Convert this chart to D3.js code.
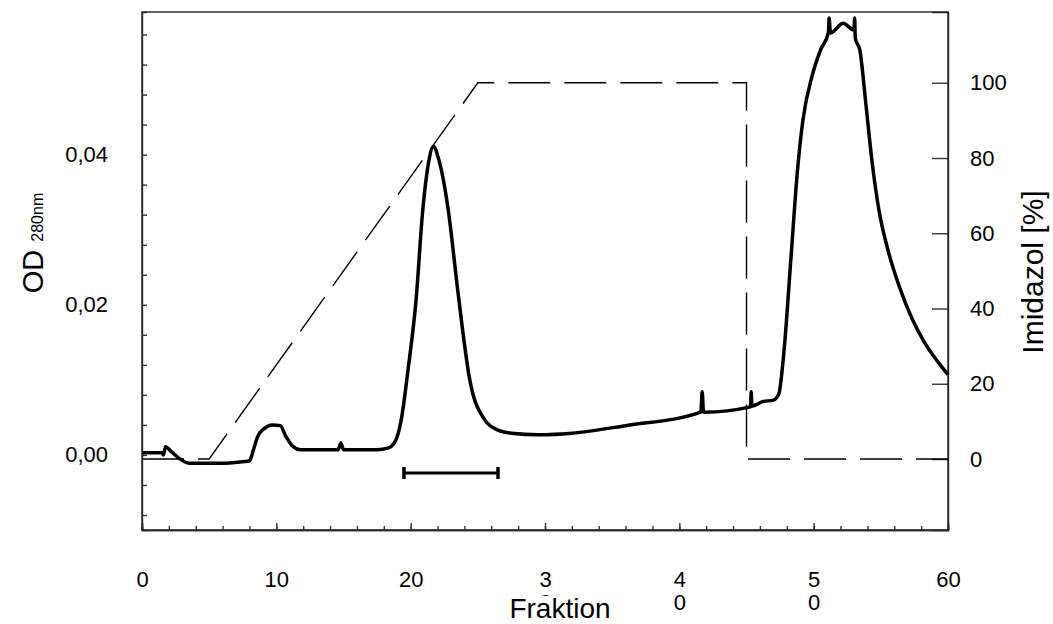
<!DOCTYPE html>
<html>
<head>
<meta charset="utf-8">
<script src="https://cdn.jsdelivr.net/npm/d3@7"></script>
<style>
  body { margin: 0; background: #fff; }
  svg { font-family: "Liberation Sans", Arial, sans-serif; }
  .axis path, .axis line { stroke: #333; stroke-width: 1.4; }
  .axis text { fill: #000; }
</style>
</head>
<body>
<div id="chart"></div>
<script>

// OD 280nm trace
var fraction = [0, 1.5, 1.6, 1.75, 2.2, 2.8, 3.5, 4.5, 6, 7.5, 8.0, 8.3, 8.6, 9.1, 9.7, 10.3, 10.7, 11.2, 11.8,
  14.6, 14.8, 15.0, 17.5, 18.3, 18.9, 19.3, 19.8, 20.4, 20.9, 21.3, 21.7, 22.1, 22.8, 23.5, 24.4, 25.5, 26.5,
  27.5, 29.5, 32, 36, 41.6, 41.7, 41.8, 45.3, 45.35, 45.4, 46.2, 47.0, 47.4, 47.8, 48.3, 48.8, 49.2, 49.9,
  50.5, 51.1, 51.15, 51.25, 52.2, 53.0, 53.05, 53.1, 53.44, 53.89, 54.33, 54.86, 55.53, 56.42, 57.31, 58.28, 59.25, 60];
var od = [0.0003, 0.0003, 0.0000, 0.0011, 0.0004, -0.0005, -0.0011, -0.0011, -0.0011, -0.0009, -0.0008, 0.0007, 0.0024, 0.0035, 0.0040, 0.0039, 0.0025, 0.0012, 0.0007,
  0.0007, 0.0016, 0.0007, 0.0007, 0.0009, 0.0020, 0.0047, 0.0113, 0.0206, 0.0326, 0.0386, 0.0411, 0.0393, 0.0326, 0.0220, 0.0100, 0.0047, 0.0033,
  0.0029, 0.0027, 0.0029, 0.0039, 0.0057, 0.0084, 0.0057, 0.0064, 0.0084, 0.0065, 0.0071, 0.0073, 0.0081, 0.0140, 0.0260, 0.0380, 0.0446, 0.0506,
  0.0539, 0.0563, 0.0582, 0.0562, 0.0575, 0.0566, 0.0582, 0.0555, 0.0539, 0.0467, 0.0393, 0.0326, 0.0273, 0.0222, 0.0182, 0.0149, 0.0124, 0.0107];

// imidazole gradient
var gradFraction = [0, 5, 25, 45, 45, 60];
var gradImidazol = [0, 0, 100, 100, 0, 0];

// pooled fractions bar
var poolRange = [19.5, 26.5];
var poolLevel = -0.0024;

var xTicks = [0, 10, 20, 30, 40, 50, 60];
var xTickLabels = ["0", "10", "20", "3\n0", "4\n0", "5\n0", "60"];
var odTicks = [0, 0.02, 0.04];
var odTickLabels = ["0,00", "0,02", "0,04"];
var imTicks = [0, 20, 40, 60, 80, 100];

var margin = { left: 142, right: 105, top: 12, bottom: 94 };
var width = 1053 - margin.left - margin.right;
var height = 624 - margin.top - margin.bottom;

var svg = d3.select("#chart").append("svg")
  .attr("width", 1053)
  .attr("height", 624);

var g = svg.append("g")
  .attr("transform", "translate(" + margin.left + "," + margin.top + ")");

var xScale = d3.scaleLinear().domain([0, 60]).range([0, width]);
var yScale = d3.scaleLinear().domain([-0.01, 0.059]).range([height, 0]);
var imScale = d3.scaleLinear().domain([-18.87, 118.8]).range([height, 0]);

// left axis, minor ticks every 0.004
var odMinor = d3.range(-2, 15).map(function (i) { return i * 0.004; });
g.append("g")
  .attr("class", "axis")
  .style("font-size", "22px")
  .call(d3.axisLeft(yScale).tickValues(odMinor).tickSize(-5).tickPadding(34)
    .tickFormat(function (d) {
      var i = odTicks.findIndex(function (t) { return Math.abs(t - d) < 1e-9; });
      return i >= 0 ? odTickLabels[i] : "";
    }));

// bottom ticks
g.append("g")
  .attr("class", "axis")
  .attr("transform", "translate(0," + height + ")")
  .call(d3.axisBottom(xScale).tickValues(d3.range(0, 61, 2)).tickSize(-4).tickFormat(""));

var xAxisG = g.append("g")
  .attr("class", "axis x-major")
  .attr("transform", "translate(0," + height + ")")
  .style("font-family", "'Liberation Sans Narrow', 'Arial Narrow', sans-serif")
  .style("font-size", "22px")
  .call(d3.axisBottom(xScale).tickValues(xTicks).tickSize(-7).tickPadding(41)
    .tickFormat(function (d, i) { return xTickLabels[i]; }));

xAxisG.selectAll(".tick text").each(function () {
  var t = d3.select(this);
  var parts = t.text().split("\n");
  if (parts.length > 1) {
    t.text(null);
    parts.forEach(function (p, k) {
      t.append("tspan").attr("x", 0).attr("dy", k === 0 ? "0.71em" : "1.05em").text(p);
    });
    t.attr("dy", null);
  }
});

// right axis
g.append("g")
  .attr("class", "axis")
  .attr("transform", "translate(" + width + ",0)")
  .style("font-size", "22px")
  .call(d3.axisRight(imScale).tickValues(imTicks).tickSize(-16).tickPadding(22));

// frame
g.append("rect")
  .attr("width", width)
  .attr("height", height)
  .attr("fill", "none")
  .attr("stroke", "#222")
  .attr("stroke-width", 1.4);

// gradient (dashed)
var gradLine = d3.line()
  .x(function (d) { return xScale(d[0]); })
  .y(function (d) { return imScale(d[1]); });

g.append("path")
  .datum(gradFraction.map(function (f, i) { return [f, gradImidazol[i]]; }))
  .attr("d", gradLine)
  .attr("fill", "none")
  .attr("stroke", "#000")
  .attr("stroke-width", 1.4)
  .attr("stroke-dasharray", "42,14");

// OD trace
var odLine = d3.line()
  .x(function (d) { return xScale(d[0]); })
  .y(function (d) { return yScale(d[1]); })
  .curve(d3.curveMonotoneX);

g.append("path")
  .datum(fraction.map(function (f, i) { return [f, od[i]]; }))
  .attr("d", odLine)
  .attr("fill", "none")
  .attr("stroke", "#000")
  .attr("stroke-width", 3.5)
  .attr("stroke-linejoin", "round");

// pool bar
var pool = g.append("g").attr("stroke", "#000");
pool.append("line")
  .attr("x1", xScale(poolRange[0])).attr("x2", xScale(poolRange[1]))
  .attr("y1", yScale(poolLevel)).attr("y2", yScale(poolLevel))
  .attr("stroke-width", 3);
poolRange.forEach(function (p) {
  pool.append("line")
    .attr("x1", xScale(p)).attr("x2", xScale(p))
    .attr("y1", yScale(poolLevel) - 6).attr("y2", yScale(poolLevel) + 6)
    .attr("stroke-width", 3.5);
});

// axis titles
var odTitle = svg.append("text")
  .attr("transform", "translate(43,243) rotate(-90)")
  .attr("text-anchor", "middle")
  .style("font-size", "29px")
  .text("OD ");
odTitle.append("tspan").style("font-size", "16px").text("280nm");

svg.append("text")
  .attr("transform", "translate(1043,272) rotate(-90)")
  .attr("text-anchor", "middle")
  .style("font-size", "30px")
  .text("Imidazol [%]");

var fr = svg.append("g").attr("transform", "translate(560,618)");
fr.append("rect").attr("x", -52).attr("y", -22).attr("width", 104).attr("height", 28).attr("fill", "#fff");
fr.append("text")
  .attr("text-anchor", "middle")
  .style("font-family", "'Liberation Sans Narrow', 'Arial Narrow', sans-serif")
  .style("font-size", "28px")
  .text("Fraktion");

</script>
</body>
</html>
